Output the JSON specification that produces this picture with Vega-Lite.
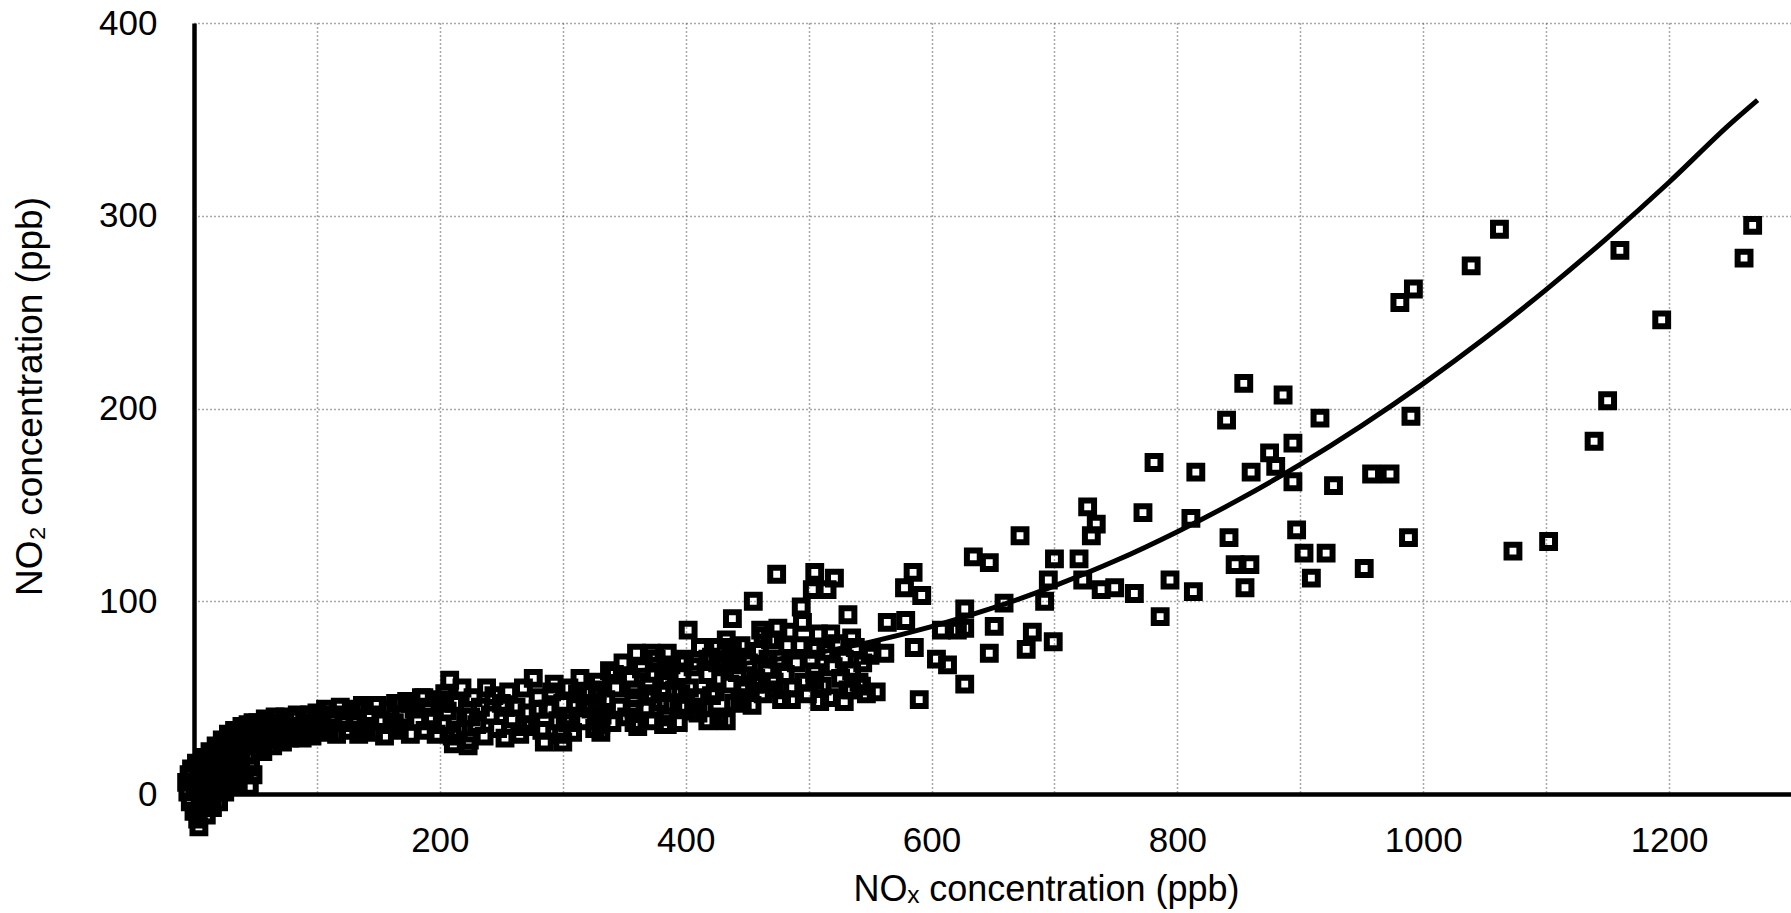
{
  "$schema": "https://vega.github.io/schema/vega-lite/v6.json",
  "width": 1598,
  "height": 771,
  "autosize": {"type": "none"},
  "padding": {"left": 194, "top": 23, "right": 0, "bottom": 119},
  "background": "white",
  "config": {
    "view": {"stroke": null},
    "font": "Liberation Sans",
    "axis": {
      "domainColor": "black",
      "domainWidth": 4.5,
      "ticks": false,
      "labelFontSize": 35,
      "labelColor": "black",
      "labelFlush": false,
      "labelOverlap": false,
      "titleFontSize": 36,
      "titleFontWeight": "normal",
      "titleColor": "black",
      "grid": true,
      "gridColor": "#555",
      "gridDash": [1, 3],
      "gridWidth": 1.5
    }
  },
  "datasets": {
    "pts": [
      {"nox":1268,"no2":295},{"nox":1261,"no2":278},{"nox":1062,"no2":293},{"nox":1039,"no2":274},{"nox":992,"no2":262},{"nox":981,"no2":255},{"nox":1160,"no2":282},{"nox":1194,"no2":246},{"nox":1150,"no2":204},{"nox":1139,"no2":183},{"nox":990,"no2":196},{"nox":958,"no2":166},{"nox":973,"no2":166},{"nox":988,"no2":133},{"nox":1073,"no2":126},{"nox":1102,"no2":131},{"nox":952,"no2":117},
      {"nox":854,"no2":213},{"nox":886,"no2":207},{"nox":840,"no2":194},{"nox":916,"no2":195},{"nox":781,"no2":172},{"nox":815,"no2":167},{"nox":875,"no2":177},{"nox":894,"no2":182},{"nox":860,"no2":167},{"nox":880,"no2":170},{"nox":894,"no2":162},{"nox":927,"no2":160},{"nox":772,"no2":146},{"nox":727,"no2":149},{"nox":734,"no2":140},{"nox":730,"no2":134},{"nox":672,"no2":134},{"nox":634,"no2":123},{"nox":647,"no2":120},{"nox":700,"no2":122},{"nox":720,"no2":122},{"nox":811,"no2":143},{"nox":842,"no2":133},{"nox":897,"no2":137},{"nox":847,"no2":119},{"nox":859,"no2":119},{"nox":903,"no2":125},{"nox":921,"no2":125},{"nox":909,"no2":112},{"nox":855,"no2":107},{"nox":695,"no2":111},{"nox":723,"no2":111},{"nox":738,"no2":106},{"nox":749,"no2":107},{"nox":765,"no2":104},{"nox":794,"no2":111},{"nox":813,"no2":105},{"nox":786,"no2":92},{"nox":692,"no2":100},{"nox":659,"no2":99},{"nox":627,"no2":96},{"nox":627,"no2":86},{"nox":651,"no2":87},{"nox":682,"no2":84},{"nox":699,"no2":79},{"nox":677,"no2":75},{"nox":647,"no2":73},{"nox":627,"no2":57},
      {"nox":474,"no2":114},{"nox":505,"no2":115},{"nox":521,"no2":112},{"nox":503,"no2":106},{"nox":515,"no2":106},{"nox":585,"no2":115},{"nox":578,"no2":107},{"nox":592,"no2":103},{"nox":455,"no2":100},{"nox":438,"no2":91},{"nox":402,"no2":85},{"nox":494,"no2":97},{"nox":495,"no2":89},{"nox":532,"no2":93},{"nox":564,"no2":89},{"nox":579,"no2":90},{"nox":475,"no2":86},{"nox":463,"no2":82},{"nox":518,"no2":83},{"nox":535,"no2":81},{"nox":483,"no2":77},{"nox":426,"no2":76},{"nox":438,"no2":76},{"nox":506,"no2":75},{"nox":551,"no2":74},{"nox":562,"no2":73},{"nox":586,"no2":76},{"nox":604,"no2":70},{"nox":613,"no2":67},{"nox":590,"no2":49},{"nox":360,"no2":73},{"nox":372,"no2":73},{"nox":385,"no2":73},{"nox":342,"no2":62},{"nox":384,"no2":64},{"nox":328,"no2":54},{"nox":446,"no2":49},{"nox":486,"no2":49},{"nox":509,"no2":48},{"nox":529,"no2":48},{"nox":555,"no2":53},{"nox":543,"no2":56},{"nox":421,"no2":51},{"nox":418,"no2":38},{"nox":433,"no2":38},{"nox":358,"no2":37},{"nox":385,"no2":36},{"nox":331,"no2":32},{"nox":396,"no2":52},{"nox":358,"no2":44},{"nox":505,"no2":59},{"nox":461,"no2":57},{"nox":467,"no2":70},{"nox":418,"no2":70},{"nox":396,"no2":68},{"nox":442,"no2":71},{"nox":608,"no2":85},{"nox":621,"no2":85},{"nox":318,"no2":47},{"nox":385,"no2":59},{"nox":373,"no2":52},{"nox":396,"no2":45},{"nox":407,"no2":43},{"nox":535,"no2":54},
      {"nox":208,"no2":59},{"nox":238,"no2":55},{"nox":276,"no2":60},{"nox":293,"no2":57},{"nox":187,"no2":50},{"nox":148,"no2":46},{"nox":211,"no2":26},{"nox":223,"no2":25},{"nox":285,"no2":27},{"nox":300,"no2":27},{"nox":331,"no2":36},{"nox":382,"no2":36},{"nox":410,"no2":42},{"nox":444,"no2":50},{"nox":461,"no2":85},{"nox":440,"no2":67},{"nox":456,"no2":57},{"nox":472,"no2":54},{"nox":399,"no2":70},{"nox":426,"no2":68},{"nox":384,"no2":46},{"nox":328,"no2":45},{"nox":358,"no2":54},{"nox":312,"no2":52},{"nox":280,"no2":50},{"nox":253,"no2":45},{"nox":225,"no2":40},{"nox":269,"no2":35},{"nox":304,"no2":37},{"nox":201,"no2":47},{"nox":163,"no2":37},{"nox":133,"no2":44},{"nox":139,"no2":33},{"nox":176,"no2":47},
      {"nox":-6,"no2":6},{"nox":-5,"no2":1},{"nox":-4,"no2":10},{"nox":-3,"no2":-4},{"nox":-2,"no2":13},{"nox":0,"no2":-9},{"nox":1,"no2":4},{"nox":2,"no2":16},{"nox":3,"no2":-13},{"nox":4,"no2":8},{"nox":4,"no2":-17},{"nox":5,"no2":0},{"nox":6,"no2":13},{"nox":7,"no2":-6},{"nox":8,"no2":19},{"nox":9,"no2":5},{"nox":10,"no2":-11},{"nox":11,"no2":15},{"nox":12,"no2":-2},{"nox":13,"no2":22},{"nox":14,"no2":9},{"nox":15,"no2":-7},{"nox":16,"no2":19},{"nox":17,"no2":2},{"nox":18,"no2":25},{"nox":19,"no2":12},{"nox":20,"no2":-4},{"nox":21,"no2":22},{"nox":22,"no2":7},{"nox":23,"no2":28},{"nox":24,"no2":15},{"nox":25,"no2":1},{"nox":26,"no2":26},{"nox":27,"no2":10},{"nox":28,"no2":31},{"nox":29,"no2":19},{"nox":30,"no2":4},{"nox":31,"no2":27},{"nox":32,"no2":13},{"nox":33,"no2":33},{"nox":35,"no2":23},{"nox":36,"no2":7},{"nox":37,"no2":30},{"nox":38,"no2":17},{"nox":39,"no2":35},{"nox":40,"no2":26},{"nox":41,"no2":10},{"nox":42,"no2":32},{"nox":43,"no2":20},{"nox":44,"no2":36},{"nox":45,"no2":4},{"nox":46,"no2":14},{"nox":47,"no2":29},{"nox":48,"no2":10},{"nox":48,"no2":37},
      {"nox":50,"no2":25},{"nox":52,"no2":37},{"nox":54,"no2":31},{"nox":56,"no2":22},{"nox":58,"no2":39},{"nox":60,"no2":28},{"nox":62,"no2":35},{"nox":64,"no2":25},{"nox":66,"no2":40},{"nox":68,"no2":31},{"nox":70,"no2":37},{"nox":72,"no2":27},{"nox":74,"no2":40},{"nox":76,"no2":33},{"nox":78,"no2":29},{"nox":80,"no2":39},{"nox":82,"no2":31},{"nox":84,"no2":41},{"nox":86,"no2":35},{"nox":88,"no2":29},{"nox":90,"no2":40},{"nox":92,"no2":33},{"nox":94,"no2":41},{"nox":96,"no2":30},{"nox":98,"no2":37},{"nox":100,"no2":42},
      {"nox":102,"no2":32},{"nox":104,"no2":39},{"nox":107,"no2":44},{"nox":110,"no2":34},{"nox":113,"no2":41},{"nox":116,"no2":31},{"nox":119,"no2":45},{"nox":122,"no2":37},{"nox":125,"no2":33},{"nox":128,"no2":43},{"nox":131,"no2":38},{"nox":134,"no2":31},{"nox":137,"no2":46},{"nox":140,"no2":35},{"nox":143,"no2":41},{"nox":146,"no2":32},{"nox":149,"no2":46},{"nox":152,"no2":38},{"nox":155,"no2":30},{"nox":158,"no2":44},{"nox":161,"no2":36},{"nox":164,"no2":47},{"nox":167,"no2":33},{"nox":170,"no2":41},{"nox":173,"no2":48},{"nox":176,"no2":31},{"nox":179,"no2":44},{"nox":182,"no2":38},{"nox":185,"no2":50},{"nox":188,"no2":33},{"nox":191,"no2":45},{"nox":194,"no2":40},{"nox":197,"no2":31},{"nox":200,"no2":49},
      {"nox":202,"no2":36},{"nox":204,"no2":52},{"nox":206,"no2":43},{"nox":210,"no2":30},{"nox":212,"no2":47},{"nox":215,"no2":33},{"nox":218,"no2":55},{"nox":221,"no2":40},{"nox":224,"no2":28},{"nox":227,"no2":50},{"nox":230,"no2":36},{"nox":233,"no2":45},{"nox":236,"no2":30},{"nox":241,"no2":41},{"nox":244,"no2":51},{"nox":247,"no2":34},{"nox":250,"no2":47},{"nox":253,"no2":29},{"nox":256,"no2":53},{"nox":259,"no2":39},{"nox":262,"no2":45},{"nox":265,"no2":31},{"nox":268,"no2":55},{"nox":271,"no2":42},{"nox":274,"no2":36},{"nox":280,"no2":44},{"nox":283,"no2":33},{"nox":288,"no2":44},{"nox":291,"no2":53},{"nox":296,"no2":38},{"nox":299,"no2":31},{"nox":300,"no2":47},
      {"nox":302,"no2":40},{"nox":305,"no2":55},{"nox":308,"no2":32},{"nox":311,"no2":47},{"nox":314,"no2":60},{"nox":317,"no2":38},{"nox":320,"no2":52},{"nox":323,"no2":44},{"nox":326,"no2":34},{"nox":329,"no2":58},{"nox":332,"no2":41},{"nox":335,"no2":49},{"nox":338,"no2":64},{"nox":340,"no2":37},{"nox":343,"no2":55},{"nox":346,"no2":45},{"nox":349,"no2":68},{"nox":352,"no2":40},{"nox":355,"no2":60},{"nox":358,"no2":50},{"nox":361,"no2":35},{"nox":364,"no2":65},{"nox":367,"no2":44},{"nox":370,"no2":56},{"nox":373,"no2":38},{"nox":376,"no2":70},{"nox":379,"no2":48},{"nox":382,"no2":60},{"nox":385,"no2":40},{"nox":388,"no2":67},{"nox":391,"no2":54},{"nox":394,"no2":37},{"nox":397,"no2":62},{"nox":400,"no2":46},
      {"nox":403,"no2":55},{"nox":406,"no2":66},{"nox":409,"no2":50},{"nox":412,"no2":76},{"nox":415,"no2":45},{"nox":418,"no2":62},{"nox":421,"no2":71},{"nox":424,"no2":53},{"nox":427,"no2":40},{"nox":430,"no2":66},{"nox":433,"no2":80},{"nox":436,"no2":57},{"nox":439,"no2":47},{"nox":442,"no2":63},{"nox":445,"no2":77},{"nox":448,"no2":54},{"nox":451,"no2":68},{"nox":454,"no2":46},{"nox":457,"no2":60},{"nox":460,"no2":74},{"nox":463,"no2":52},{"nox":466,"no2":65},{"nox":469,"no2":80},{"nox":472,"no2":58},{"nox":475,"no2":70},{"nox":478,"no2":49},{"nox":481,"no2":62},{"nox":484,"no2":84},{"nox":487,"no2":55},{"nox":490,"no2":68},{"nox":493,"no2":77},{"nox":496,"no2":58},{"nox":499,"no2":52},{"nox":502,"no2":70},{"nox":505,"no2":63},{"nox":508,"no2":83},{"nox":511,"no2":56},{"nox":514,"no2":74},{"nox":517,"no2":50},{"nox":520,"no2":66},{"nox":523,"no2":78},{"nox":526,"no2":60},{"nox":529,"no2":70},{"nox":532,"no2":54},{"nox":535,"no2":64},{"nox":538,"no2":76},{"nox":541,"no2":58},{"nox":544,"no2":68},{"nox":547,"no2":52},{"nox":550,"no2":72}
    ],
    "fit": [
      {"nox":350,"no2":64.0},{"nox":400,"no2":65.1},{"nox":450,"no2":67.9},{"nox":500,"no2":72.5},{"nox":550,"no2":78.8},{"nox":600,"no2":86.8},{"nox":650,"no2":96.5},{"nox":700,"no2":108.0},{"nox":750,"no2":121.1},{"nox":800,"no2":136.1},{"nox":850,"no2":152.7},{"nox":900,"no2":171.0},{"nox":950,"no2":191.1},{"nox":1000,"no2":212.9},{"nox":1050,"no2":236.4},{"nox":1100,"no2":261.7},{"nox":1150,"no2":288.7},{"nox":1200,"no2":317.4},{"nox":1250,"no2":347.8},{"nox":1272,"no2":360.0}
    ]
  },
  "encoding": {
    "x": {
      "field": "nox",
      "type": "quantitative",
      "scale": {"domain": [0, 1300], "nice": false, "zero": false},
      "axis": {
        "values": [100, 200, 300, 400, 500, 600, 700, 800, 900, 1000, 1100, 1200],
        "format": "d",
        "labelExpr": "datum.value % 200 === 0 ? datum.label : ''",
        "labelPadding": 29,
        "title": "NOₓ concentration (ppb)",
        "titleX": 852,
        "titleY": 106,
        "titleBaseline": "alphabetic"
      }
    },
    "y": {
      "field": "no2",
      "type": "quantitative",
      "scale": {"domain": [0, 400], "nice": false, "zero": false},
      "axis": {
        "values": [0, 100, 200, 300, 400],
        "format": "d",
        "labelPadding": 37,
        "title": "NO₂ concentration (ppb)",
        "titleFontSize": 37,
        "titleX": -164,
        "titleY": 373,
        "titleAngle": -90,
        "titleAlign": "center",
        "titleBaseline": "middle"
      }
    }
  },
  "layer": [
    {
      "data": {"name": "pts"},
      "mark": {"type": "point", "shape": "square", "size": 165, "filled": false, "strokeWidth": 6, "color": "black", "opacity": 1}
    },
    {
      "data": {"name": "fit"},
      "mark": {"type": "line", "color": "black", "strokeWidth": 5, "interpolate": "monotone"}
    }
  ]
}
